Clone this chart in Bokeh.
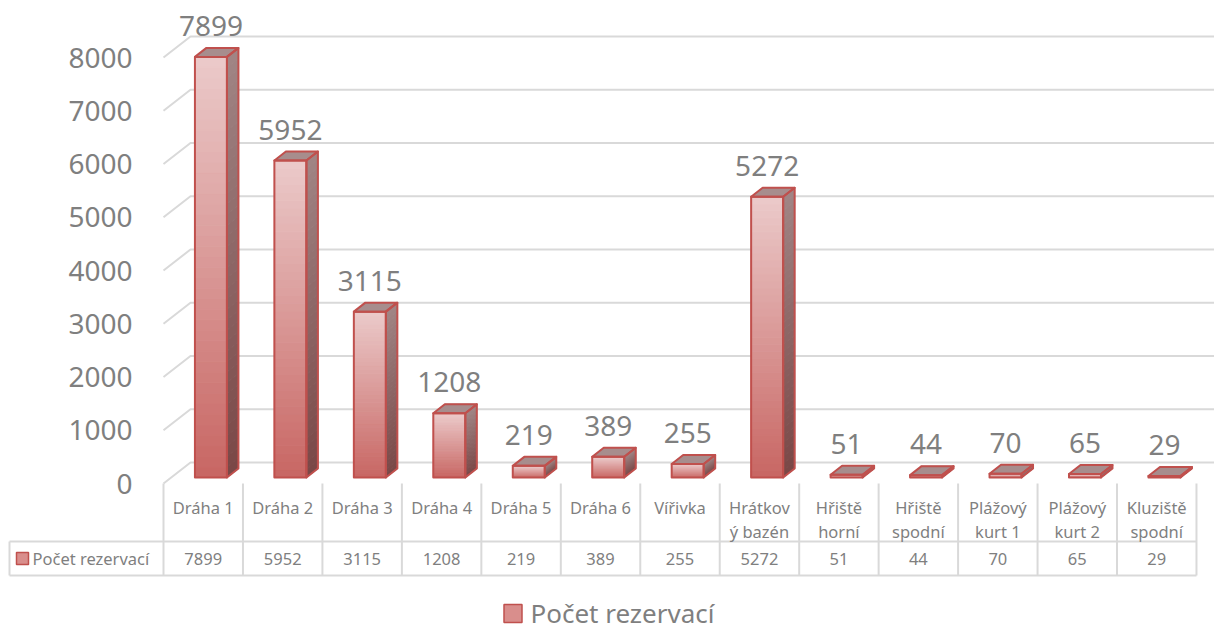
from bokeh.plotting import figure
from bokeh.models import Range1d
from bokeh.embed import file_html
from bokeh.resources import INLINE
from bokeh.core.properties import value

# ---------------- data ----------------
categories = ["Dráha 1", "Dráha 2", "Dráha 3", "Dráha 4", "Dráha 5", "Dráha 6",
              "Vířivka", "Hrátkový bazén", "Hřiště horní", "Hřiště spodní",
              "Plážový kurt 1", "Plážový kurt 2", "Kluziště spodní"]
category_labels = ["Dráha 1", "Dráha 2", "Dráha 3", "Dráha 4", "Dráha 5", "Dráha 6",
                   "Vířivka", "Hrátkov\ný bazén", "Hřiště\nhorní", "Hřiště\nspodní",
                   "Plážový\nkurt 1", "Plážový\nkurt 2", "Kluziště\nspodní"]
counts = [7899, 5952, 3115, 1208, 219, 389, 255, 5272, 51, 44, 70, 65, 29]
series_name = "Počet rezervací"
y_ticks = [0, 1000, 2000, 3000, 4000, 5000, 6000, 7000, 8000]

# ---------------- geometry / style ----------------
W, H = 1214, 631
FX0 = 163.0        # px of the front-left floor corner / table start
FY0 = 483.0        # px of value 0 on the front plane
CW = 79.46         # px per category
K = 0.05325        # px per unit of value

def X(px):
    return (px - FX0) / CW

def Y(py):
    return (FY0 - py) / K

def DX(d):
    return d / CW

def DY(d):
    return d / K

FONT = value("Noto Sans")
GRAY = "#7f7f7f"
GRID = "#d9d9d9"
BORDER = "#c0504d"
FRONT_TOP, FRONT_BOT = "#ebcaca", "#c86663"
SIDE_TOP, SIDE_BOT = "#a08585", "#7a4746"
TOP_FACE = "#a78d8d"

def mix(c1, c2, t):
    a = [int(c1[i:i + 2], 16) for i in (1, 3, 5)]
    b = [int(c2[i:i + 2], 16) for i in (1, 3, 5)]
    return "#%02x%02x%02x" % tuple(round(a[j] + (b[j] - a[j]) * t) for j in range(3))

p = figure(width=W, height=H, output_backend="svg", toolbar_location=None,
           x_range=Range1d(X(0), X(W)), y_range=Range1d(Y(H), Y(0)),
           x_axis_location=None, y_axis_location=None, min_border=0,
           outline_line_color=None, background_fill_color="white",
           border_fill_color="white")
p.grid.grid_line_color = None
p.grid.visible = False

# ---------------- back wall gridlines ----------------
back_dx, back_dy = DX(27), DY(21)
gx, gy = [], []
for t in y_ticks:
    gx.append([0, back_dx, X(W)])
    gy.append([t, t + back_dy, t + back_dy])
p.multi_line(gx, gy, line_color=GRID, line_width=2)

# ---------------- 3D bars ----------------
N = 40
off_x, off_y = DX(7.7), DY(6)
hw = DX(16)
ddx, ddy = DX(11.5), DY(9)

fl, fr, fb, ft, fc = [], [], [], [], []
sxs, sys_, scs = [], [], []
txs, tys = [], []
oxs, oys = [], []
label_x, label_y = [], []
for i, v in enumerate(counts):
    cx = i + 0.5 + off_x
    xl, xr = cx - hw, cx + hw
    yb = off_y
    yt = off_y + v
    for k in range(N):
        y0 = yb + v * k / N
        y1 = yb + v * (k + 1) / N
        tcol = (k + 0.5) / N
        fl.append(xl); fr.append(xr); fb.append(y0); ft.append(y1)
        fc.append(mix(FRONT_BOT, FRONT_TOP, tcol))
        sxs.append([xr, xr + ddx, xr + ddx, xr])
        sys_.append([y0, y0 + ddy, y1 + ddy, y1])
        scs.append(mix(SIDE_BOT, SIDE_TOP, tcol))
    txs.append([xl, xl + ddx, xr + ddx, xr])
    tys.append([yt, yt + ddy, yt + ddy, yt])
    oxs += [[xl, xr, xr, xl], [xr, xr + ddx, xr + ddx, xr], [xl, xl + ddx, xr + ddx, xr]]
    oys += [[yb, yb, yt, yt], [yb, yb + ddy, yt + ddy, yt], [yt, yt + ddy, yt + ddy, yt]]
    label_x.append(cx)
    label_y.append(yt + DY(31))

p.quad(left=fl, right=fr, bottom=fb, top=ft, fill_color=fc, line_color=fc, line_width=1)
p.patches(sxs, sys_, fill_color=scs, line_color=scs, line_width=1)
p.patches(txs, tys, fill_color=TOP_FACE, line_color=TOP_FACE, line_width=1)
p.patches(oxs, oys, fill_color=None, line_color=BORDER, line_width=2, line_join="round")

# data labels
p.text(label_x, label_y, text=[str(v) for v in counts], text_font=FONT,
       text_font_size="28px", text_color=GRAY, text_align="center",
       text_baseline="middle")

# y tick labels
p.text([X(132)] * len(y_ticks), y_ticks, text=[str(t) for t in y_ticks],
       text_font=FONT, text_font_size="28px", text_color=GRAY,
       text_align="right", text_baseline="middle")

# ---------------- data table ----------------
nc = len(categories)
row_top, row_mid, row_bot = 0, Y(541), Y(575)
vx = [[i, i] for i in range(nc + 1)]
vy = [[row_top, row_bot] for _ in range(nc + 1)]
vx.append([X(9), X(9)]); vy.append([row_mid, row_bot])
vx.append([X(9), nc]); vy.append([row_mid, row_mid])
vx.append([X(9), nc]); vy.append([row_bot, row_bot])
p.multi_line(vx, vy, line_color=GRID, line_width=2)

centers = [i + 0.5 for i in range(nc)]
p.text(centers, [Y(495)] * nc, text=category_labels, text_font=FONT,
       text_font_size="16.5px", text_color=GRAY, text_align="center",
       text_baseline="top", text_line_height=1.05)
p.text(centers, [Y(558)] * nc, text=[str(v) for v in counts], text_font=FONT,
       text_font_size="16.5px", text_color=GRAY, text_align="center",
       text_baseline="middle")

# table legend key
p.rect([X(22)], [Y(558)], width=12, height=12, width_units="screen",
       height_units="screen", fill_color="#d98e8c", line_color=BORDER, line_width=1.5)
p.text([X(32)], [Y(558)], text=[series_name], text_font=FONT,
       text_font_size="16.5px", text_color=GRAY, text_align="left",
       text_baseline="middle")

# ---------------- bottom legend ----------------
p.rect([X(512.5)], [Y(613)], width=18, height=18, width_units="screen",
       height_units="screen", fill_color="#d98e8c", line_color=BORDER, line_width=1.5)
p.text([X(530)], [Y(612)], text=[series_name], text_font=FONT,
       text_font_size="26px", text_color=GRAY, text_align="left",
       text_baseline="middle")

open("out.html", "w").write(file_html(p, INLINE))
